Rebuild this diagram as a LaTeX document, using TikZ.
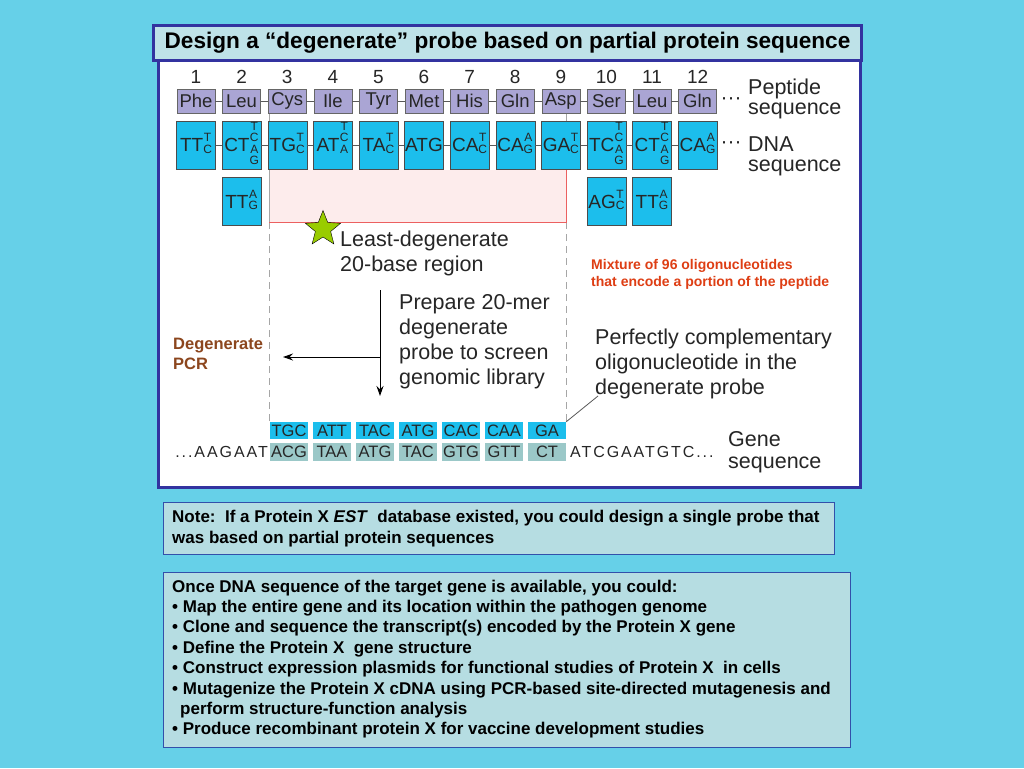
\documentclass[tikz,border=0pt]{standalone}
\usepackage{fontspec}
\setmainfont{Liberation Sans}
\newfontfamily\seqfont{Liberation Sans}[LetterSpace=12]
\usetikzlibrary{shapes.geometric,arrows.meta}
\definecolor{bgcyan}{RGB}{102,208,232}
\definecolor{panelblue}{RGB}{51,51,160}
\definecolor{noteblue}{RGB}{50,80,170}
\definecolor{titlefill}{RGB}{190,226,232}
\definecolor{notefill}{RGB}{182,221,226}
\definecolor{pepfill}{RGB}{170,165,212}
\definecolor{dnafill}{RGB}{28,190,236}
\definecolor{genefill}{RGB}{155,200,200}
\definecolor{pinkfill}{RGB}{253,236,236}
\definecolor{redline}{RGB}{236,96,96}
\definecolor{stargreen}{RGB}{153,204,0}
\definecolor{pcrbrown}{RGB}{140,70,30}
\definecolor{mixred}{RGB}{222,62,20}
\definecolor{inkgray}{RGB}{38,38,38}
% codon with stacked wobble bases
\newcommand{\cdn}[2]{#1{\fontsize{12}{10.5}\selectfont\raisebox{3.5pt}{\begin{tabular}[c]{@{}c@{}}#2\end{tabular}}}}
\begin{document}
\begin{tikzpicture}[x=1pt,y=-1pt]
\tikzstyle{pep} = [draw=gray!80!black, fill=pepfill, minimum width=38, minimum height=24, inner sep=0, text=inkgray, font=\fontsize{18.5}{18.5}\selectfont];
\tikzstyle{dna} = [draw=gray!60!black, fill=dnafill, minimum width=39, minimum height=48, inner sep=0, text=inkgray, font=\fontsize{19}{19}\selectfont];
\tikzstyle{num} = [inner sep=0, text=inkgray, font=\fontsize{19}{19}\selectfont];
\tikzstyle{link} = [gray!70!black, line width=0.8];
\tikzstyle{probe} = [fill=dnafill, minimum width=38, minimum height=17, inner sep=0, text=inkgray, font=\fontsize{16.5}{16.5}\selectfont];
\tikzstyle{gene} = [fill=genefill, minimum width=38, minimum height=18, inner sep=0, text=inkgray, font=\fontsize{16.5}{16.5}\selectfont];
\tikzstyle{label} = [anchor=west, align=left, inner sep=0, text=inkgray, font=\fontsize{21.5}{25}\selectfont];
\tikzstyle{guide} = [gray!70, line width=0.9];
\tikzstyle{arr} = [-{Stealth[length=10pt,width=7pt]}, line width=1];
\tikzstyle{boxtxt} = [anchor=west, align=left, inner sep=0, font=\fontsize{17}{20.4}\selectfont\bfseries];

\useasboundingbox (0,0) rectangle (1024,768);
\fill[bgcyan] (0,0) rectangle (1024,768);

% main panel and title
\draw[panelblue, line width=3, fill=white] (158,57) rectangle (860,487);
\node[draw=panelblue, line width=3, fill=titlefill, minimum width=708, minimum height=35, inner sep=0, font=\fontsize{22.6}{22.6}\selectfont\bfseries] (title) at (507.5,43) {Design a “degenerate” probe based on partial protein sequence};

% 20-base region
\fill[pinkfill] (269,170) rectangle (566,222);
\coordinate (la) at (269,113);
\coordinate (lb) at (269,222);
\coordinate (lc) at (269,421);
\coordinate (ra) at (566,113);
\coordinate (rb) at (566,222);
\coordinate (rc) at (566,421);
\draw[guide] (la) -- (lb);
\draw[guide] (ra) -- (rb);
\draw[guide, dash pattern=on 7pt off 5pt] (lb) -- (lc);
\draw[guide, dash pattern=on 7pt off 5pt] (rb) -- (rc);
\draw[redline, line width=1] (lb) -- (rb) -- (566,170);

% numbers
\node[num] (n1) at (196,77) {1};
\node[num] (n2) at (241.6,77) {2};
\node[num] (n3) at (287.2,77) {3};
\node[num] (n4) at (332.8,77) {4};
\node[num] (n5) at (378.4,77) {5};
\node[num] (n6) at (424,77) {6};
\node[num] (n7) at (469.6,77) {7};
\node[num] (n8) at (515.2,77) {8};
\node[num] (n9) at (560.8,77) {9};
\node[num] (n10) at (606.4,77) {10};
\node[num] (n11) at (652,77) {11};
\node[num] (n12) at (697.6,77) {12};

% peptide row
\node[pep] (p1) at (196,101) {Phe};
\node[pep] (p2) at (241.6,101) {Leu};
\node[pep] (p3) at (287.2,101) {Cys};
\node[pep] (p4) at (332.8,101) {Ile};
\node[pep] (p5) at (378.4,101) {Tyr};
\node[pep] (p6) at (424,101) {Met};
\node[pep] (p7) at (469.6,101) {His};
\node[pep] (p8) at (515.2,101) {Gln};
\node[pep] (p9) at (560.8,101) {Asp};
\node[pep] (p10) at (606.4,101) {Ser};
\node[pep] (p11) at (652,101) {Leu};
\node[pep] (p12) at (697.6,101) {Gln};
\draw[link] (p1) -- (p2);
\draw[link] (p2) -- (p3);
\draw[link] (p3) -- (p4);
\draw[link] (p4) -- (p5);
\draw[link] (p5) -- (p6);
\draw[link] (p6) -- (p7);
\draw[link] (p7) -- (p8);
\draw[link] (p8) -- (p9);
\draw[link] (p9) -- (p10);
\draw[link] (p10) -- (p11);
\draw[link] (p11) -- (p12);

% DNA row
\node[dna] (d1) at (196,145) {\cdn{TT}{T\\C}};
\node[dna] (d2) at (241.6,145) {\cdn{CT}{T\\C\\A\\G}};
\node[dna] (d3) at (287.2,145) {\cdn{TG}{T\\C}};
\node[dna] (d4) at (332.8,145) {\cdn{AT}{T\\C\\A\\\phantom{G}}};
\node[dna] (d5) at (378.4,145) {\cdn{TA}{T\\C}};
\node[dna] (d6) at (424,145) {ATG};
\node[dna] (d7) at (469.6,145) {\cdn{CA}{T\\C}};
\node[dna] (d8) at (515.2,145) {\cdn{CA}{A\\G}};
\node[dna] (d9) at (560.8,145) {\cdn{GA}{T\\C}};
\node[dna] (d10) at (606.4,145) {\cdn{TC}{T\\C\\A\\G}};
\node[dna] (d11) at (652,145) {\cdn{CT}{T\\C\\A\\G}};
\node[dna] (d12) at (697.6,145) {\cdn{CA}{A\\G}};
\draw[link] (d1) -- (d2);
\draw[link] (d2) -- (d3);
\draw[link] (d3) -- (d4);
\draw[link] (d4) -- (d5);
\draw[link] (d5) -- (d6);
\draw[link] (d6) -- (d7);
\draw[link] (d7) -- (d8);
\draw[link] (d8) -- (d9);
\draw[link] (d9) -- (d10);
\draw[link] (d10) -- (d11);
\draw[link] (d11) -- (d12);
\node[dna] (e2) at (241.6,201.5) {\cdn{TT}{A\\G}};
\node[dna] (e10) at (606.4,201.5) {\cdn{AG}{T\\C}};
\node[dna] (e11) at (652,201.5) {\cdn{TT}{A\\G}};

% row labels
\node[text=inkgray, inner sep=0, font=\fontsize{21}{21}\selectfont] (dots1) at (731,101) {···};
\node[label, font=\fontsize{21.5}{20}\selectfont] (pepl) at (748,99) {Peptide\\sequence};
\node[text=inkgray, inner sep=0, font=\fontsize{21}{21}\selectfont] (dots2) at (731,145) {···};
\node[label, font=\fontsize{21.5}{20}\selectfont] (dnal) at (748,156) {DNA\\sequence};

% star and steps
\node[star, star points=5, star point ratio=2.3, draw, fill=stargreen, minimum size=37, inner sep=0] (st) at (323,229) {};
\node[label] (least) at (340,253.5) {Least-degenerate\\20-base region};
\node[label] (prep) at (399,342) {Prepare 20-mer\\degenerate\\probe to screen\\genomic library};
\node[label] (perf) at (595,364) {Perfectly complementary\\oligonucleotide in the\\degenerate probe};
\node[anchor=west, align=left, inner sep=0, text=mixred, font=\fontsize{14}{17}\selectfont\bfseries] (mix) at (591,274.5) {Mixture of 96 oligonucleotides\\that encode a portion of the peptide};
\node[anchor=west, align=left, inner sep=0, text=pcrbrown, font=\fontsize{16.5}{20}\selectfont\bfseries] (pcr) at (173,354) {Degenerate\\PCR};
\coordinate (ar1) at (380,290);
\coordinate (ar2) at (380,396);
\coordinate (ar3) at (380,357);
\coordinate (ar4) at (283,357);
\draw[arr] (ar1) -- (ar2);
\draw[arr] (ar3) -- (ar4);

% probe and gene
\node[probe] (q1) at (289,430.5) {TGC};
\node[probe] (q2) at (332,430.5) {ATT};
\node[probe] (q3) at (375,430.5) {TAC};
\node[probe] (q4) at (418,430.5) {ATG};
\node[probe] (q5) at (461,430.5) {CAC};
\node[probe] (q6) at (504,430.5) {CAA};
\node[probe] (q7) at (547,430.5) {GA};
\node[gene] (g1) at (289,452) {ACG};
\node[gene] (g2) at (332,452) {TAA};
\node[gene] (g3) at (375,452) {ATG};
\node[gene] (g4) at (418,452) {TAC};
\node[gene] (g5) at (461,452) {GTG};
\node[gene] (g6) at (504,452) {GTT};
\node[gene] (g7) at (547,452) {CT};
\node[anchor=east, inner sep=0, text=inkgray, font=\fontsize{16}{16}\seqfont] (gleft) at (268,452) {...AAGAAT};
\node[anchor=west, inner sep=0, text=inkgray, font=\fontsize{16}{16}\seqfont] (gright) at (570,452) {ATCGAATGTC...};
\node[label, font=\fontsize{21.5}{22}\selectfont] (genel) at (728,452) {Gene\\sequence};
\coordinate (pt) at (598,396);
\draw[gray!70!black, line width=0.8] (q7.north east) -- (pt);

% notes
\node[draw=noteblue, line width=1.2, fill=notefill, minimum width=671, minimum height=52, anchor=north west] (note) at (163,502) {};
\node[boxtxt] (notet) at ([xshift=9]note.west) {Note:\ \ If a Protein X \textit{EST}\ \ database existed, you could design a single probe that\\was based on partial protein sequences};
\node[draw=noteblue, line width=1.2, fill=notefill, minimum width=687, minimum height=175, anchor=north west] (list) at (163,572) {};
\node[boxtxt] (listt) at ([xshift=9,yshift=1]list.west) {Once DNA sequence of the target gene is available, you could:\\
• Map the entire gene and its location within the pathogen genome\\
• Clone and sequence the transcript(s) encoded by the Protein X gene\\
• Define the Protein X\ \ gene structure\\
• Construct expression plasmids for functional studies of Protein X\ \ in cells\\
• Mutagenize the Protein X cDNA using PCR-based site-directed mutagenesis and\\
\hspace*{8pt}perform structure-function analysis\\
• Produce recombinant protein X for vaccine development studies};
\end{tikzpicture}
\end{document}
